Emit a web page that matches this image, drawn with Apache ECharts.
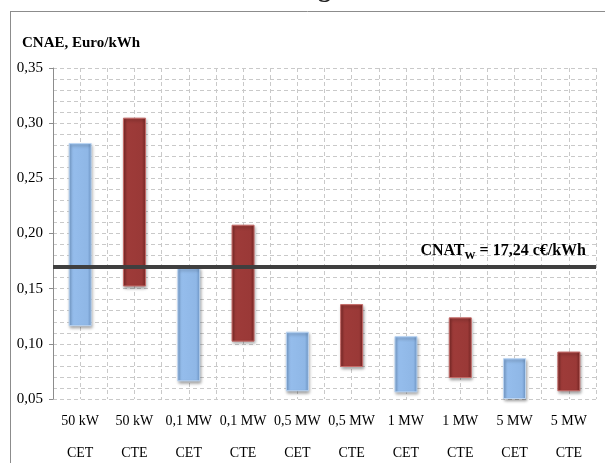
<!DOCTYPE html>
<html>
<head>
<meta charset="utf-8">
<style>
  html, body { margin: 0; padding: 0; background: #ffffff; }
  #chart { width: 605px; height: 463px; }
</style>
<script src="https://cdn.jsdelivr.net/npm/echarts@6/dist/echarts.min.js"></script>
</head>
<body>
<div id="chart"></div>
<script>
// Plant size and technology for each bar
const plantSizes = ['50 kW', '50 kW', '0,1 MW', '0,1 MW', '0,5 MW', '0,5 MW', '1 MW', '1 MW', '5 MW', '5 MW'];
const technologies = ['CET', 'CTE', 'CET', 'CTE', 'CET', 'CTE', 'CET', 'CTE', 'CET', 'CTE'];

// Cost range (Euro/kWh): lower and upper bound of each floating bar
const costLow  = [0.116, 0.152, 0.066, 0.102, 0.057, 0.079, 0.056, 0.069, 0.050, 0.057];
const costHigh = [0.282, 0.305, 0.169, 0.208, 0.111, 0.136, 0.107, 0.124, 0.087, 0.093];

// Reference cost line (Euro/kWh)
const cnatW = 0.1724;

// Value axis range and tick step
const yMin = 0.05, yMax = 0.35, yStep = 0.05;

const SERIF = '"Liberation Serif", "Times New Roman", serif';

const fills = {
  CET: new echarts.graphic.LinearGradient(0, 0, 1, 0, [
    { offset: 0, color: '#7ca5d6' },
    { offset: 0.18, color: '#95bdec' },
    { offset: 0.82, color: '#8fb7e6' },
    { offset: 1, color: '#7099ca' }
  ]),
  CTE: new echarts.graphic.LinearGradient(0, 0, 1, 0, [
    { offset: 0, color: '#7e2a28' },
    { offset: 0.18, color: '#9e3b39' },
    { offset: 0.82, color: '#9a3937' },
    { offset: 1, color: '#762624' }
  ])
};
const edges = { CET: '#bcd5f2', CTE: '#c56b68' };

const categories = plantSizes.map((s, i) => s + '\n' + technologies[i]);
const rangeData = costHigh.map((h, i) => ({
  value: +(h - costLow[i]).toFixed(4),
  itemStyle: {
    color: fills[technologies[i]],
    borderColor: edges[technologies[i]],
    borderWidth: 1,
    shadowColor: 'rgba(0,0,0,0.35)',
    shadowBlur: 3,
    shadowOffsetX: 1,
    shadowOffsetY: 2
  }
}));

const cnatText = (cnatW * 100).toFixed(2).replace('.', ',');
const gridDash = { color: '#c9c9c9', type: [4, 3], width: 1 };

const chart = echarts.init(document.getElementById('chart'), null, { renderer: 'canvas' });
chart.setOption({
  animation: false,
  backgroundColor: '#ffffff',
  grid: { left: 53, right: 9, top: 68, bottom: 64, containLabel: false, outerBoundsMode: 'none' },
  xAxis: [
    {
      type: 'category',
      data: categories,
      axisLine: { show: false },
      axisTick: { show: false },
      splitLine: { show: false },
      axisLabel: {
        interval: 0,
        margin: 6,
        color: '#000',
        fontFamily: SERIF,
        fontSize: 14,
        lineHeight: 32
      }
    },
    {
      // half-category vertical gridlines
      type: 'value',
      position: 'top',
      min: 0,
      max: 20,
      interval: 1,
      axisLine: { show: false },
      axisTick: { show: false },
      axisLabel: { show: false },
      splitLine: { show: true, lineStyle: gridDash }
    }
  ],
  yAxis: {
    type: 'value',
    min: yMin,
    max: yMax,
    interval: yStep,
    axisLine: { show: true, lineStyle: { color: '#8c8c8c', width: 1 } },
    axisTick: { show: true, length: 4, lineStyle: { color: '#8c8c8c' } },
    minorTick: { show: false, splitNumber: 5 },
    splitLine: { show: true, lineStyle: gridDash },
    minorSplitLine: { show: true, lineStyle: gridDash },
    axisLabel: {
      margin: 10,
      color: '#000',
      fontFamily: SERIF,
      fontSize: 15,
      formatter: v => v.toFixed(2).replace('.', ',')
    }
  },
  series: [
    {
      name: 'base',
      type: 'bar',
      stack: 'cost',
      barWidth: 23,
      silent: true,
      itemStyle: { color: 'transparent' },
      data: costLow
    },
    {
      name: 'range',
      type: 'bar',
      stack: 'cost',
      barWidth: 23,
      data: rangeData,
      markLine: {
        silent: true,
        symbol: ['none', 'none'],
        lineStyle: { color: '#3f3f3f', width: 4, type: 'solid' },
        label: {
          show: true,
          position: 'insideEndTop',
          distance: [10, 8],
          formatter: '{a|CNAT}{s|W}{a| = ' + cnatText + ' c€/kWh}',
          rich: {
            a: { fontFamily: SERIF, fontWeight: 'bold', fontSize: 16, color: '#000', verticalAlign: 'bottom' },
            s: { fontFamily: SERIF, fontWeight: 'bold', fontSize: 11, color: '#000', verticalAlign: 'bottom', padding: [0, 0, -3, 0] }
          }
        },
        data: [{ yAxis: cnatW }]
      }
    }
  ],
  graphic: [
    { type: 'line', shape: { x1: 10, y1: 11.5, x2: 605, y2: 11.5 }, style: { stroke: '#8c8c8c', lineWidth: 1 } },
    { type: 'line', shape: { x1: 10.5, y1: 11, x2: 10.5, y2: 463 }, style: { stroke: '#8c8c8c', lineWidth: 1 } },
    {
      type: 'text', left: 22, top: 36,
      style: { text: 'CNAE, Euro/kWh', font: 'bold 15px ' + SERIF, fill: '#000' }
    },
    {
      type: 'text', x: 318, y: 3,
      style: { text: 'g', font: 'bold 26px ' + SERIF, fill: '#222', verticalAlign: 'bottom' }
    }
  ]
});
</script>
</body>
</html>
